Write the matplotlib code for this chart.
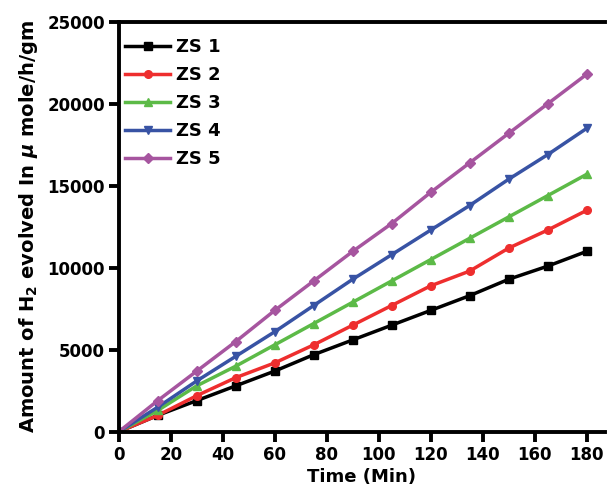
import numpy as np
import matplotlib
matplotlib.use("Agg")
import matplotlib.pyplot as plt

plt.rcParams["font.family"] = ["DejaVu Sans"]
plt.rcParams["font.weight"] = "bold"
plt.rcParams["mathtext.fontset"] = "dejavusans"

# Hydrogen evolution over time for each sample
time_min = [0, 15, 30, 45, 60, 75, 90, 105, 120, 135, 150, 165, 180]
zs1 = [0, 1000, 1900, 2800, 3700, 4700, 5600, 6500, 7400, 8300, 9300, 10100, 11000]
zs2 = [0, 1000, 2200, 3300, 4200, 5300, 6500, 7700, 8900, 9800, 11200, 12300, 13500]
zs3 = [0, 1300, 2800, 4000, 5300, 6600, 7900, 9200, 10500, 11800, 13100, 14400, 15700]
zs4 = [0, 1500, 3100, 4600, 6100, 7700, 9300, 10800, 12300, 13800, 15400, 16900, 18500]
zs5 = [0, 1900, 3700, 5500, 7400, 9200, 11000, 12700, 14600, 16400, 18200, 20000, 21800]
labels = ["ZS 1", "ZS 2", "ZS 3", "ZS 4", "ZS 5"]

series = [zs1, zs2, zs3, zs4, zs5]
colors = ["#000000", "#ee2e2e", "#5cba47", "#3853a4", "#a6559f"]
markers = ["s", "o", "^", "v", "D"]

fig = plt.figure(figsize=(6.09, 4.98), dpi=100)
ax = fig.add_axes([0.195, 0.133, 0.798, 0.823])

for y, c, m, lab in zip(series, colors, markers, labels):
    ax.plot(time_min, y, color=c, marker=m, markersize=5.5, linewidth=2.5,
            label=lab)

ax.set_xlim(0, 187)
ax.set_ylim(0, 25000)
ax.set_xticks(range(0, 181, 20))
ax.set_yticks(range(0, 25001, 5000))

for side in ["left", "bottom", "top"]:
    ax.spines[side].set_linewidth(2.8)
ax.spines["right"].set_visible(False)
ax.tick_params(direction="out", length=7, width=2.8, labelsize=12,
               top=False, right=False, pad=3)
for t in ax.get_xticklabels() + ax.get_yticklabels():
    t.set_fontweight("bold")

ax.set_xlabel("Time (Min)", fontsize=13, fontweight="bold", labelpad=3)
ax.set_ylabel("Amount of H$_\\mathbf{2}$ evolved In $\\mu$ mole/h/gm",
              fontsize=14, fontweight="bold", labelpad=5)

leg = ax.legend(loc="upper left", bbox_to_anchor=(-0.02, 1.0), frameon=False,
                handlelength=2.5, prop={"weight": "bold", "size": 13},
                borderaxespad=0.5, labelspacing=0.55, handletextpad=0.3)

fig.savefig("out.png", dpi=100)
